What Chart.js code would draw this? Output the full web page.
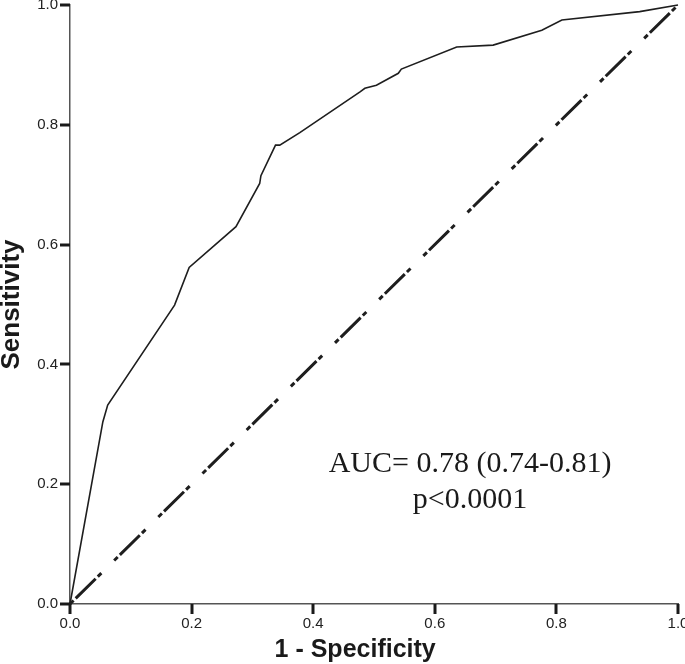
<!DOCTYPE html>
<html>
<head>
<meta charset="utf-8">
<script src="https://cdn.jsdelivr.net/npm/chart.js@4/dist/chart.umd.min.js"></script>
<style>
  html, body { margin: 0; padding: 0; background: #fff; }
  #wrap { width: 685px; height: 664px; position: relative; }
</style>
</head>
<body>
<div id="wrap"><canvas id="c" width="685" height="664"></canvas></div>
<script>
// ROC curve points (1 - specificity, sensitivity)
const rocFpr = [0, 0.054, 0.062, 0.172, 0.196, 0.273, 0.312, 0.314, 0.338, 0.345, 0.378, 0.477, 0.485, 0.504, 0.540, 0.545, 0.636, 0.696, 0.776, 0.809, 0.937, 1.0];
const rocTpr = [0, 0.304, 0.332, 0.499, 0.562, 0.630, 0.702, 0.715, 0.766, 0.766, 0.787, 0.855, 0.861, 0.866, 0.886, 0.893, 0.930, 0.933, 0.958, 0.975, 0.989, 1.0];
// Reference diagonal
const refX = [0, 1];
const refY = [0, 1];
// Axis ticks
const tickValues = [0, 0.2, 0.4, 0.6, 0.8, 1.0];
const xTitle = '1 - Specificity';
const yTitle = 'Sensitivity';
const annotLines = ['AUC= 0.78 (0.74-0.81)', 'p<0.0001'];
const annotPos = { x: 0.658, y: 0.22 };

const rocData = rocFpr.map((x, i) => ({ x: x, y: rocTpr[i] }));
const refData = refX.map((x, i) => ({ x: x, y: refY[i] }));

const TICK_LEN = 10;

const decoPlugin = {
  id: 'deco',
  afterDraw(chart) {
    const ctx = chart.ctx;
    const xs = chart.scales.x, ys = chart.scales.y;
    const area = chart.chartArea;
    ctx.save();
    // tick marks
    ctx.fillStyle = '#1a1a1a';
    tickValues.forEach(v => {
      const px = Math.round(xs.getPixelForValue(v));
      ctx.fillRect(px - 1.5, area.bottom, 3, TICK_LEN);
      const py = Math.round(ys.getPixelForValue(v));
      ctx.fillRect(area.left - TICK_LEN, py - 1.5, TICK_LEN, 3);
    });
    // x axis title
    ctx.fillStyle = '#1a1a1a';
    ctx.font = 'bold 25px "Liberation Sans", Arial, sans-serif';
    ctx.textAlign = 'center';
    ctx.textBaseline = 'middle';
    ctx.fillText(xTitle, area.left + (area.right - area.left) * 0.469, 650);
    // annotation
    ctx.font = '30px "Liberation Serif", "Times New Roman", serif';
    ctx.textAlign = 'center';
    ctx.textBaseline = 'alphabetic';
    const ax = xs.getPixelForValue(annotPos.x);
    const ay = ys.getPixelForValue(annotPos.y);
    annotLines.forEach((t, i) => ctx.fillText(t, ax, ay + i * 36));
    ctx.restore();
  }
};

const tickFont = { family: '"Liberation Sans", Arial, sans-serif', size: 15 };
const titleFont = { family: '"Liberation Sans", Arial, sans-serif', size: 26, weight: 'bold', lineHeight: 0.9 };

new Chart(document.getElementById('c'), {
  type: 'scatter',
  data: {
    datasets: [
      {
        data: rocData,
        showLine: true,
        borderColor: '#1e1e1e',
        borderWidth: 1.6,
        pointRadius: 0,
        tension: 0,
        clip: false
      },
      {
        data: refData,
        showLine: true,
        borderColor: '#1e1e1e',
        borderWidth: 3,
        borderDash: [5, 3, 28, 3, 5, 18],
        pointRadius: 0,
        tension: 0,
        clip: false
      }
    ]
  },
  options: {
    responsive: false,
    animation: false,
    devicePixelRatio: 1,
    layout: { padding: { top: 5, right: 7, left: 0, bottom: 0 } },
    plugins: { legend: { display: false }, tooltip: { enabled: false } },
    scales: {
      x: {
        type: 'linear',
        min: 0, max: 1,
        afterFit(s) { s.height = 60; s.paddingLeft = 0; s.paddingRight = 0; },
        afterBuildTicks(s) { s.ticks = tickValues.map(v => ({ value: v })); },
        ticks: {
          color: '#222',
          font: tickFont,
          padding: TICK_LEN + 1,
          maxRotation: 0,
          callback: v => Number(v).toFixed(1)
        },
        grid: { display: false, drawOnChartArea: false, drawTicks: false },
        border: { display: true, color: '#555', width: 1.5 },
        title: { display: false }
      },
      y: {
        type: 'linear',
        min: 0, max: 1,
        afterFit(s) { s.width = 70; s.paddingTop = 0; s.paddingBottom = 0; },
        afterBuildTicks(s) { s.ticks = tickValues.map(v => ({ value: v })); },
        ticks: {
          color: '#222',
          font: tickFont,
          padding: TICK_LEN + 2,
          callback: v => Number(v).toFixed(1)
        },
        grid: { display: false, drawOnChartArea: false, drawTicks: false },
        border: { display: true, color: '#555', width: 1.5 },
        title: { display: true, text: yTitle, color: '#1a1a1a', font: titleFont, padding: { top: 0, bottom: 0 } }
      }
    }
  },
  plugins: [decoPlugin]
});
</script>
</body>
</html>
